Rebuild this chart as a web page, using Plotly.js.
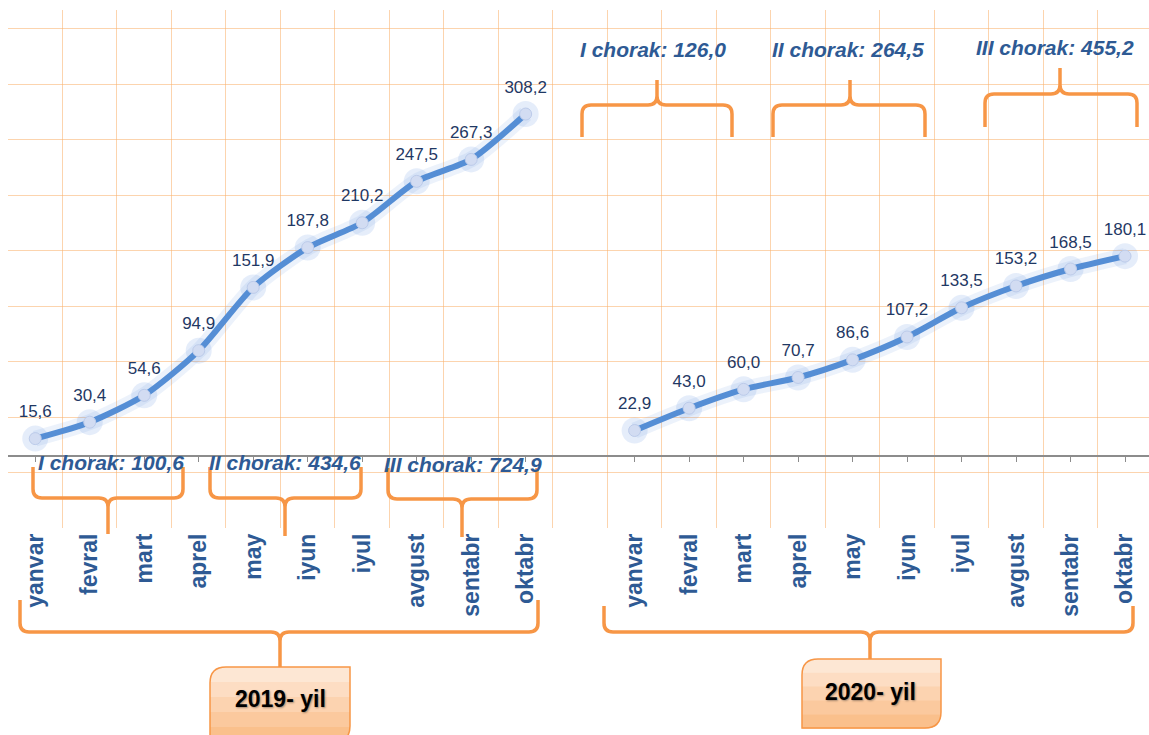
<!DOCTYPE html>
<html>
<head>
<meta charset="utf-8">
<script src="https://cdn.plot.ly/plotly-3.0.1.min.js"></script>
<style>
  html, body { margin: 0; padding: 0; background: #fff; }
  #chart { width: 1149px; height: 735px; }
</style>
</head>
<body>
<div id="chart"></div>
<script>
const months = ['yanvar', 'fevral', 'mart', 'aprel', 'may', 'iyun', 'iyul', 'avgust', 'sentabr', 'oktabr'];
const values2019 = [15.6, 30.4, 54.6, 94.9, 151.9, 187.8, 210.2, 247.5, 267.3, 308.2];
const values2020 = [22.9, 43.0, 60.0, 70.7, 86.6, 107.2, 133.5, 153.2, 168.5, 180.1];
const quarterNames = ['I', 'II', 'III'];
const quarterTotals2019 = [100.6, 434.6, 724.9];
const quarterTotals2020 = [126.0, 264.5, 455.2];
const yearLabels = ['2019- yil', '2020- yil'];

// slot index on the shared x axis, one empty slot between the years
const slots2019 = months.map((_, i) => i);
const slots2020 = months.map((_, i) => i + 11);

const fmt = v => v.toFixed(1).replace('.', ',');

const W = 1149, H = 735,
    mL = 8, mR = 0, mT = 10, mB = 207,
    pw = W - mL - mR, ph = H - mT - mB;
const px = x => (x - mL) / pw;
const py = y => (H - mB - y) / ph;
const P = (x, y) => `${px(x).toFixed(5)},${py(y).toFixed(5)}`;

const yMin = -65, yMax = 402,
    xRange = [-0.5, 20.44];

const lineBlue = '#558ed5',
    orange = '#f79646',
    gridOrange = 'rgba(250,176,108,0.55)',
    labelBlue = '#2e5a94',
    sans = 'Liberation Sans, Arial, sans-serif';

const makeGlow = (x, y) => ({
    type: 'scatter', mode: 'lines+markers', x: x, y: y,
    xaxis: 'x', yaxis: 'y',
    line: { color: 'rgba(110,155,225,0.13)', width: 16, shape: 'spline', smoothing: 0.7 },
    marker: { size: 26, color: 'rgba(110,155,225,0.18)' },
    hoverinfo: 'skip',
});
const makeLine = (x, y) => ({
    type: 'scatter', mode: 'lines+markers', x: x, y: y,
    xaxis: 'x2', yaxis: 'y',
    line: { color: lineBlue, width: 6, shape: 'spline', smoothing: 0.7 },
    marker: { size: 12, color: '#d2dcf2', line: { color: '#bccbea', width: 1 } },
});
const makeText = (x, y) => ({
    type: 'scatter', mode: 'markers+text', x: x, y: y,
    xaxis: 'x3', yaxis: 'y',
    text: y.map(fmt),
    textposition: 'top center',
    textfont: { family: sans, size: 17, color: '#1f3864' },
    marker: { size: 26, color: 'rgba(0,0,0,0)' },
    hoverinfo: 'skip',
});

const data = [
    makeGlow(slots2019, values2019), makeGlow(slots2020, values2020),
    makeLine(slots2019, values2019), makeLine(slots2020, values2020),
    makeText(slots2019, values2019), makeText(slots2020, values2020),
];

// curly brace drawn in pixels, sent as a paper path
const brace = (x1, x2, xm, yEnd, yH, yTip, r) => {
    const s = Math.sign(yTip - yH);
    return `M${P(x1, yEnd)} L${P(x1, yH - s * r)} Q${P(x1, yH)} ${P(x1 + r, yH)} ` +
        `L${P(xm - r, yH)} Q${P(xm, yH)} ${P(xm, yH + s * r)} L${P(xm, yTip)} ` +
        `M${P(x2, yEnd)} L${P(x2, yH - s * r)} Q${P(x2, yH)} ${P(x2 - r, yH)} ` +
        `L${P(xm + r, yH)} Q${P(xm, yH)} ${P(xm, yH + s * r)}`;
};
// box with rounded top-left / bottom-right corners
const box = (x1, y1, x2, y2, rTL, rBR) =>
    `M${P(x1, y1 + rTL)} Q${P(x1, y1)} ${P(x1 + rTL, y1)} L${P(x2, y1)} ` +
    `L${P(x2, y2 - rBR)} Q${P(x2, y2)} ${P(x2 - rBR, y2)} L${P(x1, y2)} Z`;

const braceDefs = [
    [33, 183, 108, 467, 498, 534, 9],
    [210, 361, 285, 467, 498, 536, 9],
    [388, 537, 462, 468, 499, 537, 9],
    [582, 732, 657, 137, 105, 80, 9],
    [773, 925, 850, 137, 105, 80, 9],
    [985, 1137, 1060, 127, 94, 68, 9],
    [20, 538, 280, 600, 632, 667, 9],
    [604, 1133, 870, 606, 632, 659, 9],
];

const shapes = braceDefs.map(b => ({
    type: 'path', xref: 'paper', yref: 'paper', layer: 'above',
    path: brace(...b),
    line: { color: orange, width: 3.5 },
}));

// peach boxes with a stepped gradient
const boxDefs = [[210, 667, 350, 742], [802, 659, 941, 728]];
const bands = ['#fde7d4', '#fdddc3', '#fcd3b0', '#fbc99e', '#fac08c'];
boxDefs.forEach(([x1, y1, x2, y2]) => {
    const bh = (y2 - y1) / bands.length;
    bands.forEach((c, k) => shapes.push({
        type: 'path', xref: 'paper', yref: 'paper', layer: 'above',
        path: box(x1, y1 + k * bh, x2, y1 + (k + 1) * bh + 0.5, k === 0 ? 16 : 0, k === bands.length - 1 ? 16 : 0),
        fillcolor: c, line: { width: 0 },
    }));
    shapes.push({
        type: 'path', xref: 'paper', yref: 'paper', layer: 'above',
        path: box(x1, y1, x2, y2, 16, 16),
        line: { color: orange, width: 1.5 },
    });
});

const quarterPos2019 = [[111, 462], [285, 462], [463, 464]];
const quarterPos2020 = [[653, 50], [848, 50], [1055, 48]];
const yearPos = [[280, 699], [871, 692]];

const annotations = [];
const quarterNote = (v, i, pos) => ({
    xref: 'paper', yref: 'paper', x: px(pos[0]), y: py(pos[1]),
    xanchor: 'center', yanchor: 'middle',
    text: `<i>${quarterNames[i]} chorak: ${fmt(v)}</i>`, showarrow: false,
    font: { family: sans, size: 21, color: labelBlue, weight: 'bold' },
});
quarterTotals2019.forEach((v, i) => annotations.push(quarterNote(v, i, quarterPos2019[i])));
quarterTotals2020.forEach((v, i) => annotations.push(quarterNote(v, i, quarterPos2020[i])));
yearLabels.forEach((t, i) => annotations.push({
    xref: 'paper', yref: 'paper', x: px(yearPos[i][0]), y: py(yearPos[i][1]),
    xanchor: 'center', yanchor: 'middle',
    text: `<b>${t}</b>`, showarrow: false,
    font: { family: sans, size: 23, color: '#000', shadow: '1px 1px 2px rgba(0,0,0,0.35)' },
}));

const centers = [...slots2019, ...slots2020];

const layout = {
    width: W, height: H,
    margin: { l: mL, r: mR, t: mT, b: mB },
    paper_bgcolor: '#fff', plot_bgcolor: '#fff',
    showlegend: false,
    font: { family: sans },
    xaxis: {
        range: xRange,
        tickmode: 'array', tickvals: centers, ticktext: [...months, ...months],
        tickangle: -90, ticks: '',
        tickfont: { size: 23, color: labelBlue, weight: 'bold' },
        showgrid: false, zeroline: false, showline: false,
    },
    xaxis2: {
        overlaying: 'x', anchor: 'y', range: xRange,
        tick0: -0.5, dtick: 1,
        showgrid: true, gridcolor: gridOrange, gridwidth: 1.3,
        showticklabels: false, ticks: '', zeroline: false, showline: false,
    },
    xaxis3: {
        overlaying: 'x', anchor: 'free', position: (0 - yMin) / (yMax - yMin),
        range: xRange,
        tickmode: 'array', tickvals: centers,
        ticks: 'outside', ticklen: 5, tickcolor: '#8c8c8c', tickwidth: 1.2,
        showticklabels: false, showgrid: false, zeroline: false, showline: false,
    },
    yaxis: {
        range: [yMin, yMax],
        tick0: yMin, dtick: 50,
        showgrid: true, gridcolor: gridOrange, gridwidth: 1.3,
        showticklabels: false, ticks: '',
        zeroline: true, zerolinecolor: '#8c8c8c', zerolinewidth: 1.5,
        showline: false,
    },
    shapes: shapes,
    annotations: annotations,
};

Plotly.newPlot('chart', data, layout, { displayModeBar: false, responsive: false });
</script>
</body>
</html>
